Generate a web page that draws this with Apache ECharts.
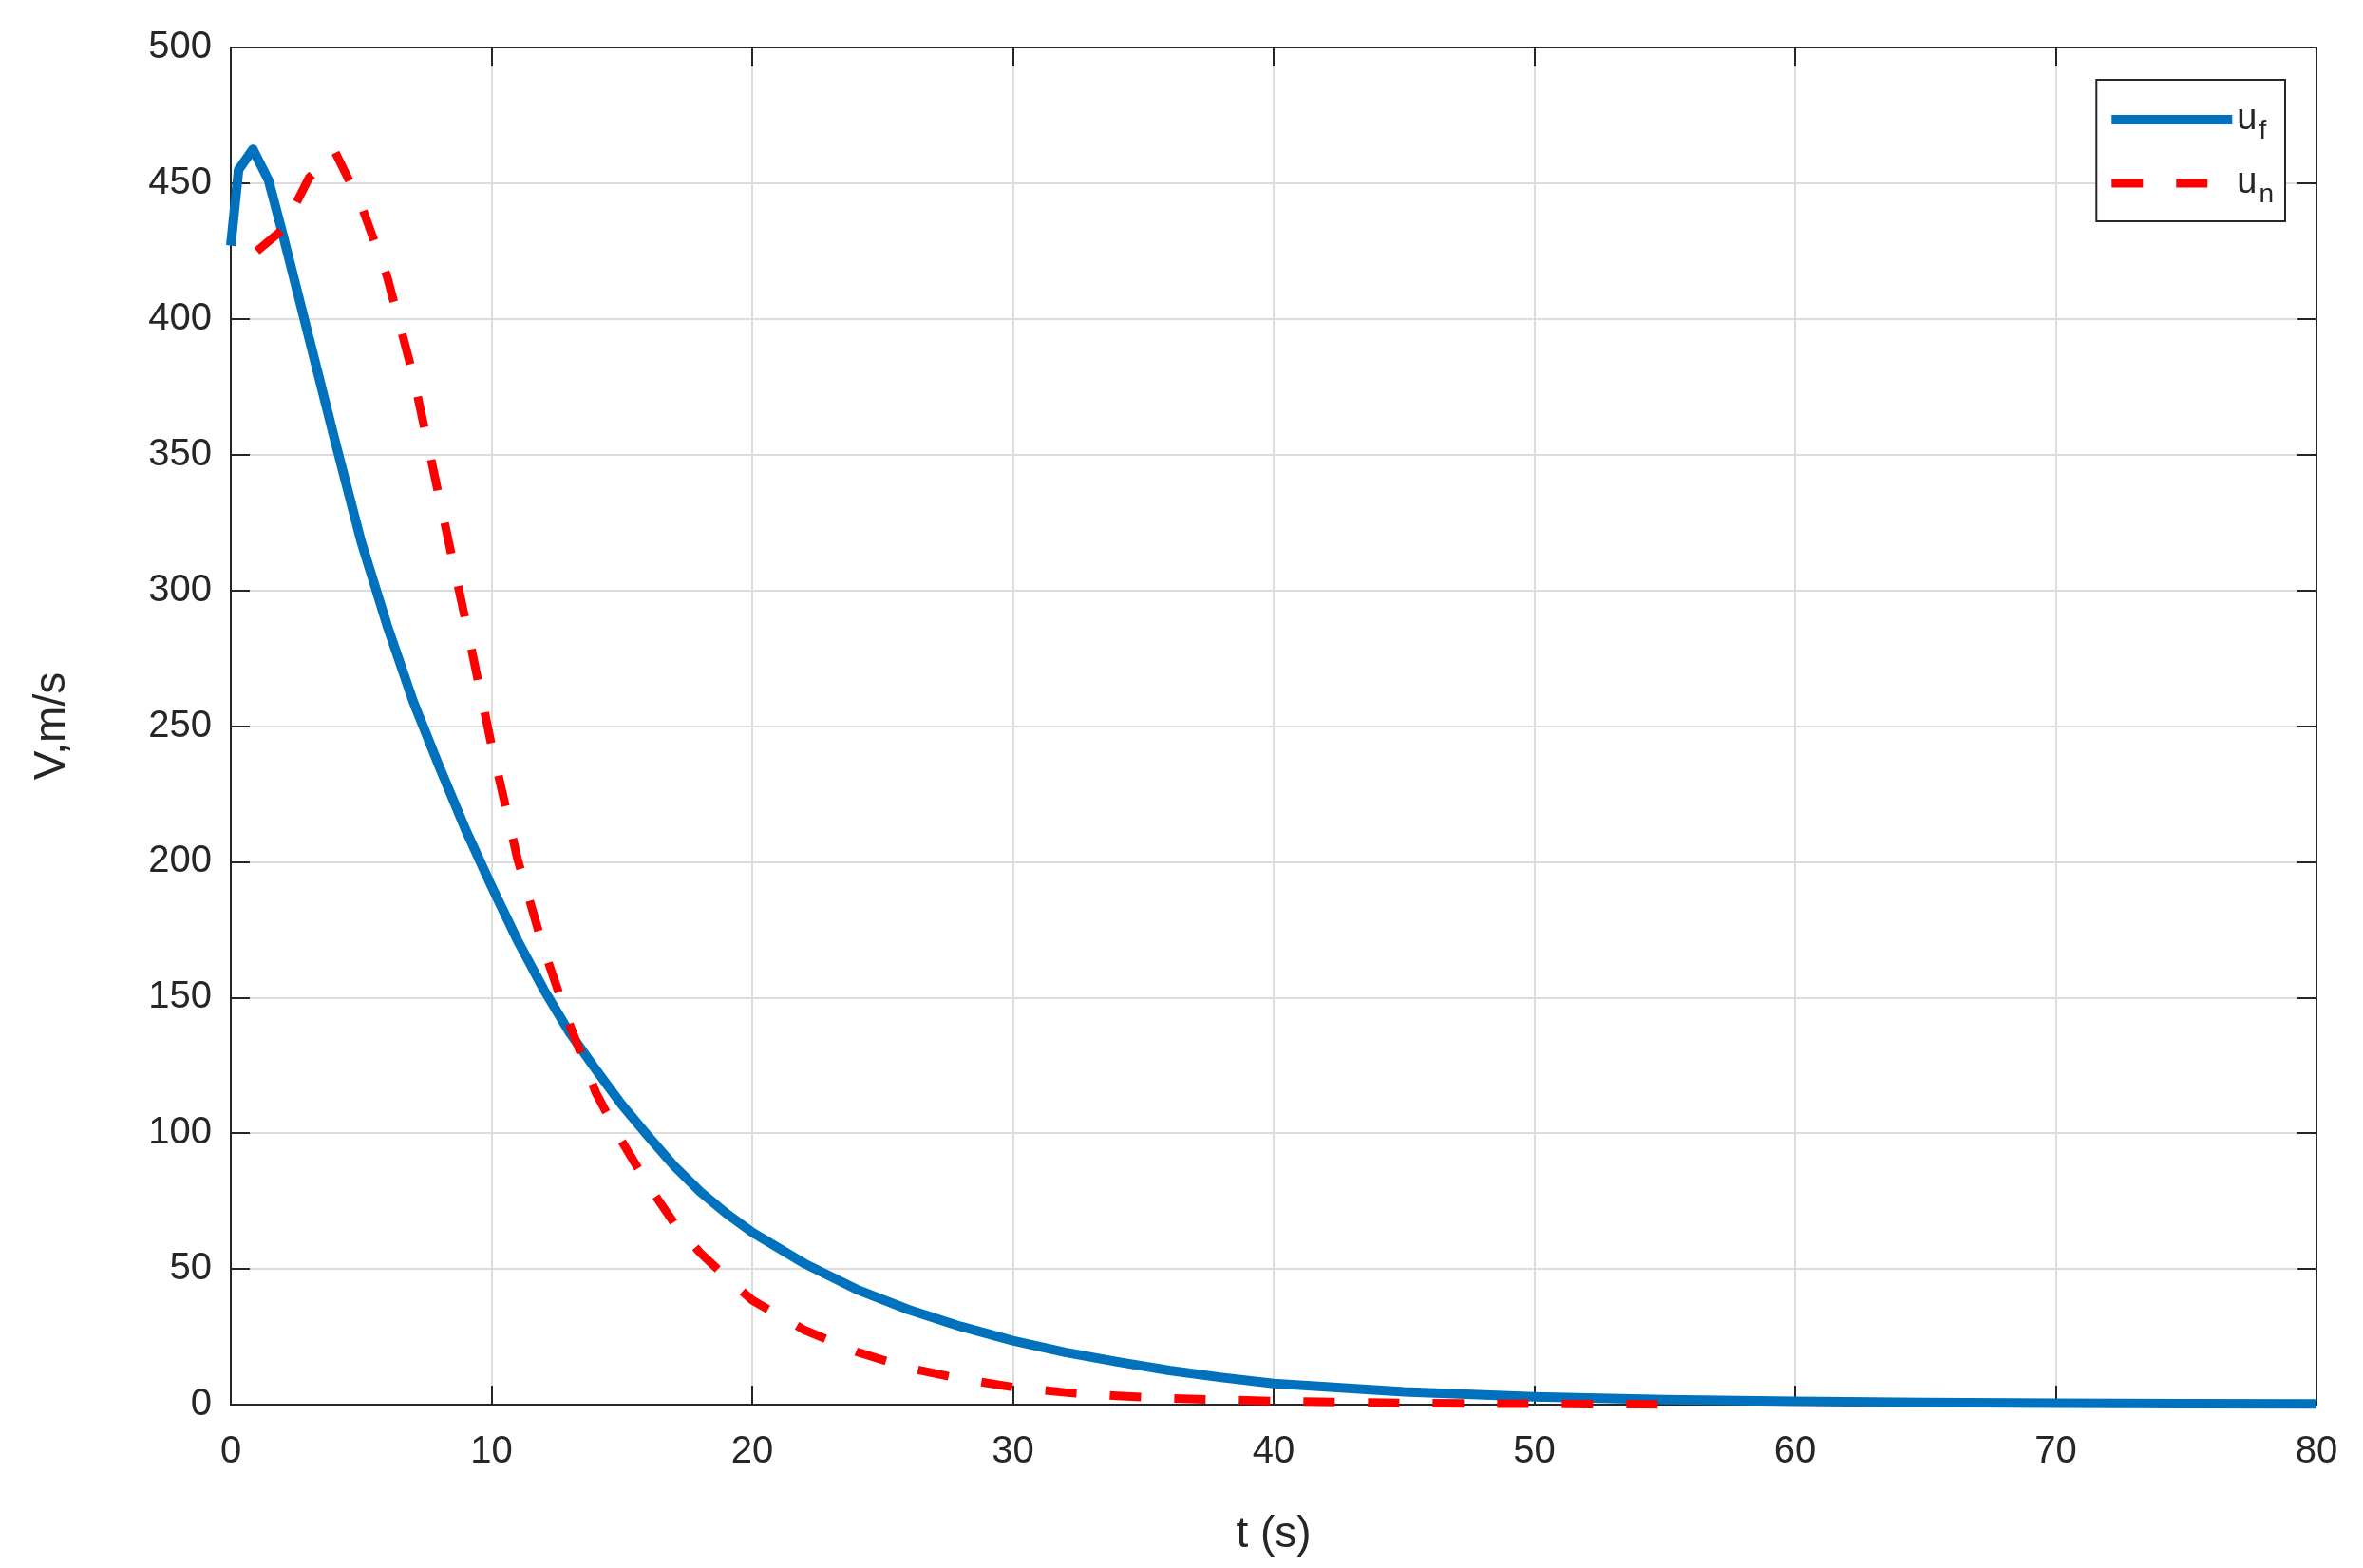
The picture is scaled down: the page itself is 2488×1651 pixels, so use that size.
<!DOCTYPE html>
<html>
<head>
<meta charset="utf-8">
<script src="https://cdn.jsdelivr.net/npm/echarts@6/dist/echarts.min.js"></script>
<style>
html,body{margin:0;padding:0;background:#fff;}
#chart{width:2488px;height:1651px;}
</style>
</head>
<body>
<div id="chart"></div>
<script>
// u_f (solid blue)
const tF = [0, 0.3, 0.85, 1.45, 2, 3, 4, 5, 6, 7, 8, 9, 10, 11, 12, 13, 14, 15, 16, 17, 18, 19, 20, 22, 24, 26, 28, 30, 32, 34, 36, 38, 40, 45, 50, 55, 60, 65, 70, 75, 80];
const uF = [427, 455, 462.5, 451, 431, 393, 355, 318, 287, 259, 235, 212, 191, 171, 153, 137, 123.5, 110.5, 99, 88, 78.5, 70.5, 63.5, 52, 42.5, 35, 28.8, 23.6, 19.3, 15.8, 12.6, 10, 7.8, 4.7, 2.9, 1.8, 1.2, 0.8, 0.5, 0.35, 0.25];
// u_n (dashed red)
const tN = [1, 2, 3, 4, 5, 6, 7, 8, 9, 10, 11, 12, 13, 14, 15, 16, 17, 18, 19, 20, 22, 24, 26, 28, 30, 32, 34, 36, 40, 45, 50, 55];
const uN = [425, 433, 452, 461.5, 442, 415.5, 379, 334, 289, 243, 201, 168, 140, 115, 97, 81, 67, 56, 47, 38.5, 27.5, 19.5, 13.5, 9.5, 6.5, 4.5, 3.2, 2.3, 1.3, 0.6, 0.3, 0.1];
// axes
const xTicks = [0, 10, 20, 30, 40, 50, 60, 70, 80];
const yTicks = [0, 50, 100, 150, 200, 250, 300, 350, 400, 450, 500];
const seriesNames = ['uf', 'un'];

const FONT = '"Liberation Sans", Arial, Helvetica, sans-serif';
const AX = '#262626';
const BLUE = '#0072BD';
const RED = '#FF0000';

function pairs(t, u) { return t.map((x, i) => [x, u[i]]); }

const chart = echarts.init(document.getElementById('chart'), null, {renderer: 'canvas'});

const baseX = {
  type: 'value', min: xTicks[0], max: xTicks[xTicks.length - 1], interval: 10,
  axisLine: {show: true, onZero: false, lineStyle: {color: AX, width: 2}},
  axisTick: {show: true, inside: true, length: 20, lineStyle: {color: AX, width: 2}},
};
const baseY = {
  type: 'value', min: yTicks[0], max: yTicks[yTicks.length - 1], interval: 50,
  axisLine: {show: true, onZero: false, lineStyle: {color: AX, width: 2}},
  axisTick: {show: true, inside: true, length: 20, lineStyle: {color: AX, width: 2}},
};

const option = {
  backgroundColor: '#fff',
  animation: false,
  grid: {left: 243, top: 50, right: 49, bottom: 172, containLabel: false},
  xAxis: [
    Object.assign({}, baseX, {
      position: 'bottom',
      name: 't (s)', nameLocation: 'middle', nameGap: 114,
      nameTextStyle: {fontSize: 46, color: AX, fontFamily: FONT},
      axisLabel: {show: true, margin: 30, fontSize: 40, color: AX, fontFamily: FONT},
      splitLine: {show: true, lineStyle: {color: '#dcdcdc', width: 2}}
    }),
    Object.assign({}, baseX, {
      position: 'top', axisLabel: {show: false}, splitLine: {show: false}
    })
  ],
  yAxis: [
    Object.assign({}, baseY, {
      position: 'left',
      name: 'V,m/s', nameLocation: 'middle', nameGap: 165, nameRotate: 90,
      nameTextStyle: {fontSize: 46, color: AX, fontFamily: FONT},
      axisLabel: {show: true, margin: 20, fontSize: 40, color: AX, fontFamily: FONT},
      splitLine: {show: true, lineStyle: {color: '#dcdcdc', width: 2}}
    }),
    Object.assign({}, baseY, {
      position: 'right', axisLabel: {show: false}, splitLine: {show: false}
    })
  ],
  legend: {
    orient: 'vertical', right: 82, top: 84,
    data: [
      {name: seriesNames[0], lineStyle: {width: 10, color: BLUE, type: 'solid'}, itemStyle: {opacity: 0}},
      {name: seriesNames[1], lineStyle: {width: 9, color: RED, type: [33, 35], cap: 'butt'}, itemStyle: {opacity: 0}}
    ],
    itemWidth: 127, itemHeight: 12, itemGap: 15, itemTextGap: 12,
    padding: [16, 12, 14, 11],
    borderColor: AX, borderWidth: 2, backgroundColor: '#fff',
    formatter: function (name) { return name === 'uf' ? '{u|u}{s|f}' : '{u|u}{s|n}'; },
    textStyle: {
      fontFamily: FONT, color: AX,
      rich: {
        u: {fontSize: 38, fontFamily: FONT, color: AX, lineHeight: 42},
        s: {fontSize: 28, fontFamily: FONT, color: AX, padding: [24, 0, 0, 2], lineHeight: 42}
      }
    }
  },
  series: [
    {
      name: 'uf', type: 'line', data: pairs(tF, uF), xAxisIndex: 0, yAxisIndex: 0,
      showSymbol: false, symbol: 'none', smooth: false,
      lineStyle: {color: BLUE, width: 10, cap: 'butt', join: 'round'},
      itemStyle: {color: BLUE}, z: 3
    },
    {
      name: 'un', type: 'line', data: pairs(tN, uN), xAxisIndex: 0, yAxisIndex: 0,
      showSymbol: false, symbol: 'none', smooth: false,
      lineStyle: {color: RED, width: 9, type: [33, 35], cap: 'butt', join: 'miter'},
      itemStyle: {color: RED}, z: 4
    }
  ]
};
chart.setOption(option);
</script>
</body>
</html>
